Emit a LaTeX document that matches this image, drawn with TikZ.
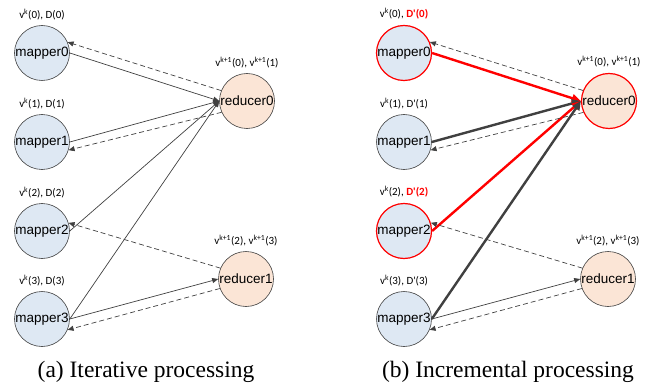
\documentclass[tikz,border=0pt]{standalone}
\usepackage{fontspec}
\setmainfont{Liberation Serif}
\newfontfamily\nodefont{Liberation Sans}
\newfontfamily\labfont{Carlito}
\usetikzlibrary{arrows.meta}

\definecolor{mapfill}{HTML}{DEE8F3}
\definecolor{redfill}{HTML}{FBE5D6}
\definecolor{edgegray}{HTML}{404040}
\definecolor{hotred}{HTML}{FF0000}

\tikzset{
  mapper/.style={circle,draw=edgegray,fill=mapfill,minimum size=55pt,inner sep=0pt,line width=0.6pt},
  reducer/.style={mapper,fill=redfill},
  hot/.style={draw=hotred,line width=1.2pt},
  ntext/.style={font=\nodefont\fontsize{13.5}{15}\selectfont,inner sep=0pt},
  lab/.style={font=\labfont\fontsize{11}{12}\selectfont,label distance=2pt},
  push/.style={-{Triangle[length=6pt,width=5pt]},draw=edgegray,line width=0.7pt},
  pull/.style={push,dash pattern=on 5pt off 3pt},
  heavy/.style={-{Triangle[length=9pt,width=8pt]},draw=edgegray,line width=2.4pt},
  captext/.style={font=\fontsize{23.5}{26}\selectfont,anchor=base}
}

\begin{document}
\begin{tikzpicture}[x=1pt,y=-1pt]
  \useasboundingbox (0,0) rectangle (660,390);

  % (a) iterative
  \node[mapper,label={[ntext]center:mapper0},label={[lab]above:v\textsuperscript{k}(0), D(0)}] (mapA0) at (42,53) {};
  \node[mapper,label={[ntext]center:mapper1},label={[lab]above:v\textsuperscript{k}(1), D(1)}] (mapA1) at (42,142) {};
  \node[mapper,label={[ntext]center:mapper2},label={[lab]above:v\textsuperscript{k}(2), D(2)}] (mapA2) at (42,231) {};
  \node[mapper,label={[ntext]center:mapper3},label={[lab]above:v\textsuperscript{k}(3), D(3)}] (mapA3) at (42,319) {};
  \node[reducer,label={[ntext]center:reducer0},label={[lab]above:v\textsuperscript{k+1}(0), v\textsuperscript{k+1}(1)}] (redA0) at (247,101) {};
  \node[reducer,label={[ntext]center:reducer1},label={[lab]above:v\textsuperscript{k+1}(2), v\textsuperscript{k+1}(3)}] (redA1) at (246,279) {};

  \draw[push] (mapA0.east) -- (redA0.west);
  \draw[push] (mapA1.east) -- (redA0.west);
  \draw[push] (mapA2.east) -- (redA0.west);
  \draw[push] (mapA3.east) -- (redA0.west);
  \draw[push] (mapA3.east) -- (redA1.west);
  \draw[pull] (redA0.158) -- (mapA0.23);
  \draw[pull] (redA0.204) -- (mapA1.343);
  \draw[pull] (redA1.157) -- (mapA2.17);
  \draw[pull] (redA1.200) -- (mapA3.337);

  \node[captext] (capA) at (146,377) {(a) Iterative processing};

  % (b) incremental
  \node[mapper,hot,label={[ntext]center:mapper0},label={[lab]above:v\textsuperscript{k}(0), \textcolor{hotred}{\bfseries D'(0)}}] (mapB0) at (404,53) {};
  \node[mapper,label={[ntext]center:mapper1},label={[lab]above:v\textsuperscript{k}(1), D'(1)}] (mapB1) at (404,142) {};
  \node[mapper,hot,label={[ntext]center:mapper2},label={[lab]above:v\textsuperscript{k}(2), \textcolor{hotred}{\bfseries D'(2)}}] (mapB2) at (404,231) {};
  \node[mapper,label={[ntext]center:mapper3},label={[lab]above:v\textsuperscript{k}(3), D'(3)}] (mapB3) at (404,319) {};
  \node[reducer,hot,label={[ntext]center:reducer0},label={[lab]above:v\textsuperscript{k+1}(0), v\textsuperscript{k+1}(1)}] (redB0) at (609,101) {};
  \node[reducer,label={[ntext]center:reducer1},label={[lab]above:v\textsuperscript{k+1}(2), v\textsuperscript{k+1}(3)}] (redB1) at (608,279) {};

  \draw[heavy,draw=hotred] (mapB0.east) -- (redB0.west);
  \draw[heavy] (mapB1.east) -- (redB0.west);
  \draw[heavy,draw=hotred] (mapB2.east) -- (redB0.west);
  \draw[heavy] (mapB3.east) -- (redB0.west);
  \draw[push] (mapB3.east) -- (redB1.west);
  \draw[pull] (redB0.158) -- (mapB0.23);
  \draw[pull] (redB0.204) -- (mapB1.343);
  \draw[pull] (redB1.157) -- (mapB2.17);
  \draw[pull] (redB1.200) -- (mapB3.337);

  \node[captext] (capB) at (508,377) {(b) Incremental processing};
\end{tikzpicture}
\end{document}
